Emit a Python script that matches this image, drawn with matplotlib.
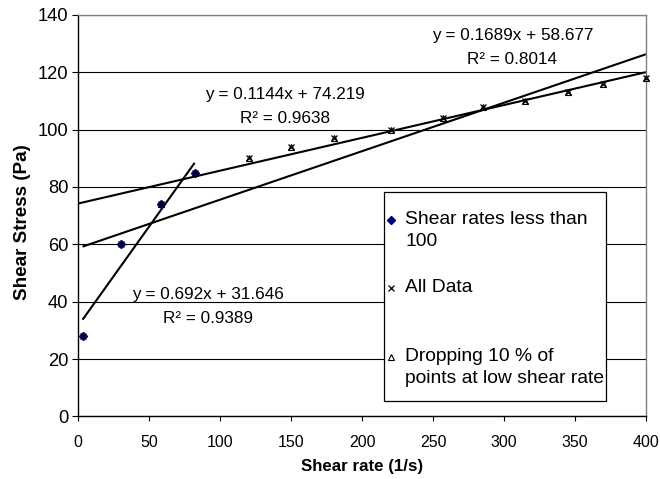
import numpy as np
import matplotlib
matplotlib.use("Agg")
import matplotlib.pyplot as plt
from matplotlib.legend_handler import HandlerLine2D
from matplotlib.path import Path

plt.rcParams['font.family'] = ['Liberation Sans', 'DejaVu Sans']

# Measured flow curve
shear_rate = [3, 30, 58, 82, 120, 150, 180, 220, 257, 285, 315, 345, 370, 400]
shear_stress = [28, 60, 74, 85, 90, 94, 97, 100, 104, 108, 110, 113, 116, 118]

# Subsets used for the separate fits
low_rate = [3, 30, 58, 82]
low_stress = [28, 60, 74, 85]
trimmed_rate = [58, 82, 120, 150, 180, 220, 257, 285, 315, 345, 370, 400]
trimmed_stress = [74, 85, 90, 94, 97, 100, 104, 108, 110, 113, 116, 118]

series_labels = ["Shear rates less than\n100", "All Data\n",
                 "Dropping 10 % of\npoints at low shear rate"]

# Linear trendlines: slope, intercept, R^2
fit_low = (0.692, 31.646, 0.9389)
fit_all = (0.1689, 58.677, 0.8014)
fit_trimmed = (0.1144, 74.219, 0.9638)
trimmed_backcast_to = 0

x_ticks = [0, 50, 100, 150, 200, 250, 300, 350, 400]
y_ticks = [0, 20, 40, 60, 80, 100, 120, 140]

fig = plt.figure(figsize=(6.6, 4.79), dpi=100)
ax = fig.add_axes([0.1186, 0.1305, 0.8602, 0.8388])

ax.set_xlim(0, 400)
ax.set_ylim(0, 140)
ax.set_xticks(x_ticks)
ax.set_yticks(y_ticks)
ax.yaxis.grid(True, color='black', linewidth=0.8)
ax.set_axisbelow(True)

for side in ('top', 'right'):
    ax.spines[side].set_color('#808080')
    ax.spines[side].set_linewidth(1.0)
for side in ('left', 'bottom'):
    ax.spines[side].set_color('black')
    ax.spines[side].set_linewidth(1.0)

ax.tick_params(axis='y', direction='out', length=4, width=0.8, pad=3.2,
               labelsize=13.2)
ax.tick_params(axis='x', direction='out', length=3.6, width=0.8, pad=9.5,
               labelsize=11.5)

ax.set_xlabel("Shear rate (1/s)", fontsize=12.2, fontweight='bold')
ax.set_ylabel("Shear Stress (Pa)", fontsize=13.6, fontweight='bold')
ax.xaxis.set_label_coords(0.5, -0.107)
ax.yaxis.set_label_coords(-0.0835, 0.484)


def trend(fit, x0, x1):
    xs = np.array([x0, x1], dtype=float)
    return xs, fit[0] * xs + fit[1]


tl_kw = dict(color='black', linewidth=1.5, zorder=2, solid_capstyle='butt')
ax.plot(*trend(fit_low, min(low_rate), max(low_rate)), **tl_kw)
ax.plot(*trend(fit_all, min(shear_rate), max(shear_rate)), **tl_kw)
ax.plot(*trend(fit_trimmed, trimmed_backcast_to, max(trimmed_rate)), **tl_kw)

h_low, = ax.plot(low_rate, low_stress, linestyle='none', marker='D',
                 markersize=3.6, color='#000080', zorder=3, clip_on=False)
h_all, = ax.plot(shear_rate, shear_stress, linestyle='none', marker='x',
                 markersize=4.5, markeredgewidth=0.9, color='black',
                 zorder=4, clip_on=False)
h_trim, = ax.plot(trimmed_rate, trimmed_stress, linestyle='none', marker='^',
                  markersize=4.2, markeredgewidth=0.8, markerfacecolor='none',
                  markeredgecolor='black', zorder=4, clip_on=False)


def eq_text(fit):
    return f"y = {fit[0]}x + {fit[1]}\nR\u00b2 = {fit[2]}"


txt_kw = dict(fontsize=12.3, ha='center', va='center', multialignment='center',
              linespacing=1.75, zorder=6)
ax.text(145.6, 108.0, eq_text(fit_trimmed), **txt_kw)
ax.text(305.8, 128.4, eq_text(fit_all), **txt_kw)
ax.text(91.5, 38.3, eq_text(fit_low), **txt_kw)


class FirstLineMarker(HandlerLine2D):
    """Legend handler that lines the marker up with the first text line."""

    def __init__(self, dx=0.0, dy=0.0, **kw):
        super().__init__(**kw)
        self.dx = dx
        self.dy = dy

    def create_artists(self, legend, orig_handle, xdescent, ydescent,
                       width, height, fontsize, trans):
        arts = super().create_artists(legend, orig_handle, xdescent, ydescent,
                                      width, height, fontsize, trans)
        for a in arts:
            a.set_xdata(np.asarray(a.get_xdata(), dtype=float) + self.dx)
            a.set_ydata(np.asarray(a.get_ydata(), dtype=float) + self.dy)
        return arts


def legend_frame(x0, y0, width, height, mutation_size):
    # wider padding above and below the entries than at the sides
    left, right, bottom, top = 0.0, 0.0, 0.6, 0.87
    xa = x0 - left * mutation_size
    xb = x0 + width + right * mutation_size
    ya = y0 - bottom * mutation_size
    yb = y0 + height + top * mutation_size
    return Path([(xa, ya), (xb, ya), (xb, yb), (xa, yb), (xa, ya)], closed=True)


handler = FirstLineMarker(dx=-1.5, dy=7.6, numpoints=1)
leg = ax.legend([h_low, h_all, h_trim], series_labels,
                loc='upper left', bbox_to_anchor=(384 / 660, 1 - 209 / 479),
                bbox_transform=fig.transFigure, borderaxespad=0,
                fontsize=13.9, frameon=True, fancybox=False, shadow=False,
                edgecolor='black', facecolor='white', framealpha=1,
                borderpad=0.1, handlelength=0.7, handletextpad=0.3,
                labelspacing=1.5, numpoints=1,
                handler_map={h_low: handler, h_all: handler, h_trim: handler})
leg.get_frame().set_linewidth(0.9)
leg.get_frame().set_boxstyle(legend_frame)
for t in leg.get_texts():
    t.set_linespacing(1.42)

fig.savefig("out.png", dpi=100, facecolor='white')
